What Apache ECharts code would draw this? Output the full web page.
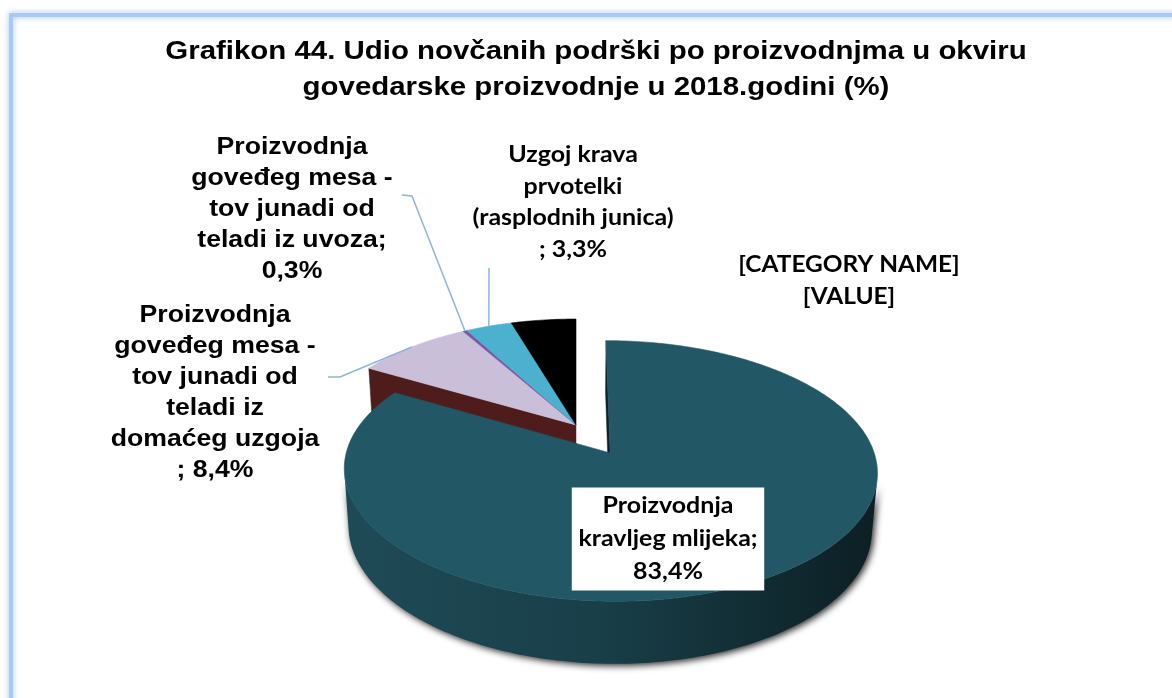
<!DOCTYPE html>
<html>
<head>
<meta charset="utf-8">
<script src="https://cdn.jsdelivr.net/npm/echarts@6/dist/echarts.min.js"></script>
<style>
  html, body { margin: 0; padding: 0; background: #ffffff; }
  #chart { width: 1172px; height: 698px; }
</style>
</head>
<body>
<div id="chart"></div>
<script>
// ---- data ----
const categories = [
  'Proizvodnja kravljeg mlijeka',
  'Proizvodnja goveđeg mesa - tov junadi od teladi iz domaćeg uzgoja',
  'Proizvodnja goveđeg mesa - tov junadi od teladi iz uvoza',
  'Uzgoj krava prvotelki (rasplodnih junica)',
  '[CATEGORY NAME]'
];
const shares = [83.4, 8.4, 0.3, 3.3, 4.6];
const labelTemplates = [
  'Proizvodnja\nkravljeg mlijeka;\n{v}%',
  'Proizvodnja\ngoveđeg mesa -\ntov junadi od\nteladi iz\ndomaćeg uzgoja\n; {v}%',
  'Proizvodnja\ngoveđeg mesa -\ntov junadi od\nteladi iz uvoza;\n{v}%',
  'Uzgoj krava\nprvotelki\n(rasplodnih junica)\n; {v}%',
  '[CATEGORY NAME]\n[VALUE]'
];
const titleLines = [
  'Grafikon 44. Udio novčanih podrški po proizvodnjma u okviru',
  'govedarske proizvodnje u 2018.godini (%)'
];

// ---- styling ----
const topColors  = ['#225866', '#c9bfd9', '#7b58a3', '#4cb0cf', '#000000'];
const faceColors = ['#0d2227', '#4f1c1c', '#3c2752', '#24607a', '#000000'];
const explodedSlice = 0;

// 3D view of the pie (unit radius disc, top face at y = 0)
const V = { cx: 576, cy: 425, scale: 256, dist: 6.58, tilt: 28 * Math.PI / 180, height: 0.25, explode: 0.26 };
const sinT = Math.sin(V.tilt), cosT = Math.cos(V.tilt);
const cam = [0, V.dist * sinT, V.dist * cosT];

// label placement (centre of text block) and leader elbows
const ARIAL = 'Liberation Sans, Arial, sans-serif';
const CALIBRI = 'Lato, Carlito, Calibri, sans-serif';
const labelLayout = [
  { x: 668, y: 539, family: CALIBRI, size: 22.5, lh: 33, box: true },
  { x: 215, y: 393, family: ARIAL, size: 24, lh: 31, leader: [[328, 377], [340, 377]] },
  { x: 292, y: 209, family: ARIAL, size: 24, lh: 31, leader: [[402, 195], [412, 196]] },
  { x: 573, y: 202, family: CALIBRI, size: 22.5, lh: 31.5, leader: [[489, 268]] },
  { x: 849, y: 281, family: CALIBRI, size: 22, lh: 32 }
];
const TEXT_SCALE_X = 1.11;

// ---- geometry helpers ----
const total = shares.reduce((a, b) => a + b, 0);
const startAngles = [], endAngles = [];
(function () {
  let acc = 0;
  shares.forEach(v => {
    startAngles.push(acc / total * Math.PI * 2);
    acc += v;
    endAngles.push(acc / total * Math.PI * 2);
  });
})();

function project(p) {
  const depth = V.dist - p[1] * sinT - p[2] * cosT;
  const k = V.scale * V.dist / depth;
  return [V.cx + p[0] * k, V.cy - (p[1] * cosT - p[2] * sinT) * k];
}
// angle measured clockwise from the far side of the disc
function rimPoint(c, th, y) { return [c[0] + Math.sin(th), y, c[2] - Math.cos(th)]; }
function facing(n, p) {
  return n[0] * (cam[0] - p[0]) + n[1] * (cam[1] - p[1]) + n[2] * (cam[2] - p[2]) > 1e-6;
}
function arcSamples(a0, a1) {
  const steps = Math.max(2, Math.ceil((a1 - a0) / (Math.PI / 180)));
  const out = [];
  for (let s = 0; s <= steps; s++) out.push(a0 + (a1 - a0) * s / steps);
  return out;
}
function fmt(v) { return v.toFixed(1).replace('.', ','); }

function renderSlice(params, api) {
  const i = params.dataIndex;
  const n = shares.length;
  const value = api.value(1);
  const a0 = startAngles[i], a1 = endAngles[i];
  const mid = (a0 + a1) / 2;
  const off = i === explodedSlice ? V.explode : 0;
  const c = [off * Math.sin(mid), 0, -off * Math.cos(mid)];
  const base = i === explodedSlice ? 10 : 0;
  const H = -V.height;
  const children = [];

  // radial cut faces: only where the neighbouring slice is pulled away
  const prev = (i - 1 + n) % n, next = (i + 1) % n;
  const faces = [
    { th: a0, n: [-Math.cos(a0), 0, -Math.sin(a0)], open: i === explodedSlice || prev === explodedSlice },
    { th: a1, n: [Math.cos(a1), 0, Math.sin(a1)], open: i === explodedSlice || next === explodedSlice }
  ];
  faces.forEach(f => {
    if (!f.open) return;
    const r = rimPoint(c, f.th, 0);
    const midP = [(c[0] + r[0]) / 2, H / 2, (c[2] + r[2]) / 2];
    if (!facing(f.n, midP)) return;
    const pts = [project(c), project(r), project(rimPoint(c, f.th, H)), project([c[0], H, c[2]])];
    children.push({ type: 'polygon', z2: base + 1, shape: { points: pts },
      style: { fill: faceColors[i], stroke: faceColors[i], lineWidth: 0.5 } });
  });

  // outer wall (visible runs only)
  const samples = arcSamples(a0, a1);
  let run = [];
  const runs = [];
  for (let s = 0; s < samples.length - 1; s++) {
    const th = (samples[s] + samples[s + 1]) / 2;
    const nrm = [Math.sin(th), 0, -Math.cos(th)];
    const vis = facing(nrm, rimPoint(c, th, H / 2));
    if (vis) {
      if (!run.length) run.push(samples[s]);
      run.push(samples[s + 1]);
    } else if (run.length) { runs.push(run); run = []; }
  }
  if (run.length) runs.push(run);
  runs.forEach(r => {
    const topPts = r.map(th => project(rimPoint(c, th, 0)));
    const botPts = r.map(th => project(rimPoint(c, th, H))).reverse();
    const fill = i === explodedSlice
      ? new echarts.graphic.LinearGradient(V.cx - 260, 0, V.cx + 300, 0, [
          { offset: 0, color: '#1f4c58' },
          { offset: 0.5, color: '#193f49' },
          { offset: 1, color: '#0c1f24' }
        ], true)
      : faceColors[i];
    children.push({ type: 'polygon', z2: base + 2, shape: { points: topPts.concat(botPts) },
      style: { fill: fill, shadowBlur: i === explodedSlice ? 7 : 0, shadowColor: 'rgba(0,0,0,0.85)',
               shadowOffsetX: 2, shadowOffsetY: 2 } });
  });

  // top face
  const topFace = [project(c)].concat(samples.map(th => project(rimPoint(c, th, 0))));
  children.push({ type: 'polygon', z2: base + 3, shape: { points: topFace },
    style: { fill: topColors[i], stroke: topColors[i], lineWidth: 0.6 } });

  // label + leader
  const L = labelLayout[i];
  const txt = labelTemplates[i].replace('{v}', fmt(value));
  children.push({
    type: 'text', z2: 30, x: L.x, y: L.y, scaleX: TEXT_SCALE_X,
    style: {
      text: txt, x: 0, y: 0, align: 'center', verticalAlign: 'middle',
      fontFamily: L.family, fontWeight: 'bold', fontSize: L.size, lineHeight: L.lh,
      fill: '#000000',
      backgroundColor: L.box ? '#ffffff' : null,
      padding: L.box ? [2, 6, 2, 6] : 0
    }
  });
  if (L.leader) {
    const anchor = project(rimPoint(c, mid, 0));
    children.push({ type: 'polyline', z2: 29, shape: { points: L.leader.concat([anchor]) },
      style: { stroke: '#8db4e3', lineWidth: 1.5, fill: null } });
  }
  return { type: 'group', children: children };
}

const chart = echarts.init(document.getElementById('chart'), null, { renderer: 'canvas' });
chart.setOption({
  backgroundColor: '#ffffff',
  animation: false,
  graphic: [
    { type: 'rect', shape: { x: 11, y: 15, width: 1300, height: 800 }, z: 0,
      style: { fill: null, stroke: '#a8c9f3', lineWidth: 4, shadowBlur: 6, shadowColor: 'rgba(130,175,235,0.8)' } },
    { type: 'text', x: 596, y: 52, scaleX: TEXT_SCALE_X, z: 5,
      style: { text: titleLines[0], x: 0, y: 0, align: 'center', verticalAlign: 'middle',
               fontFamily: ARIAL, fontWeight: 'bold', fontSize: 26.5, fill: '#000000' } },
    { type: 'text', x: 596, y: 88, scaleX: TEXT_SCALE_X, z: 5,
      style: { text: titleLines[1], x: 0, y: 0, align: 'center', verticalAlign: 'middle',
               fontFamily: ARIAL, fontWeight: 'bold', fontSize: 26.5, fill: '#000000' } }
  ],
  series: [{
    type: 'custom',
    coordinateSystem: 'none',
    silent: true,
    renderItem: renderSlice,
    data: shares.map((v, i) => ({ name: categories[i], value: [i, v] }))
  }]
});
</script>
</body>
</html>
